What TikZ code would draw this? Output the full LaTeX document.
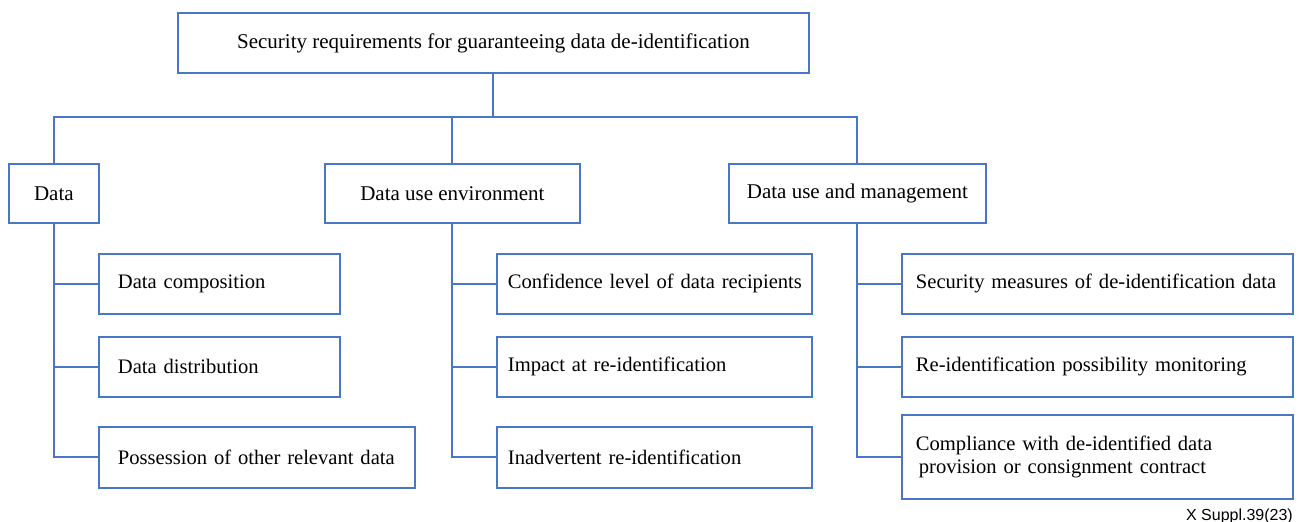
\documentclass[tikz,border=0pt]{standalone}
\usepackage{fontspec}
\setmainfont{Liberation Serif}
\newfontfamily\footfont{Liberation Sans}
\definecolor{linkblue}{RGB}{74,118,200}
\begin{document}
\begin{tikzpicture}[x=1pt,y=-1pt,
  every node/.style={font=\fontsize{21}{23}\selectfont, text=black},
  base/.style={draw=linkblue, line width=1.8pt, rectangle, anchor=north west, inner ysep=0pt},
  headbox/.style={base, align=center, inner xsep=0pt},
  leafbox/.style={base, align=left, font=\fontsize{20.6}{23}\selectfont},
  link/.style={draw=linkblue, line width=2pt}]
\useasboundingbox (0,0) rectangle (1299,522);

% top
\node[headbox, minimum width=631, minimum height=60] (top) at (177,12) {Security requirements for guaranteeing data de-identification};

% level 2
\node[headbox, minimum width=90, minimum height=59] (data) at (8,163) {Data};
\node[headbox, minimum width=255, minimum height=59] (due) at (324,163) {Data use environment};
\node[headbox, minimum width=257, minimum height=59] (dum) at (728,163) {Data use and management};

% leaves: data
\node[leafbox, inner xsep=19, text width=203, minimum height=60] (d1) at (98,253) {\mbox{Data composition}};
\node[leafbox, inner xsep=19, text width=203, minimum height=60] (d2) at (98,336) {\mbox{Data distribution}};
\node[leafbox, inner xsep=19, text width=278, minimum height=61] (d3) at (98,426) {\mbox{Possession of other relevant data}};

% leaves: environment
\node[leafbox, inner xsep=11, text width=293, minimum height=60] (e1) at (496,253) {\mbox{Confidence level of data recipients}};
\node[leafbox, inner xsep=11, text width=293, minimum height=60] (e2) at (496,336) {\mbox{Impact at re-identification}};
\node[leafbox, inner xsep=11, text width=293, minimum height=61] (e3) at (496,426) {\mbox{Inadvertent re-identification}};

% leaves: management
\node[leafbox, inner xsep=14, text width=363, minimum height=60] (m1) at (901,253) {\mbox{Security measures of de-identification data}};
\node[leafbox, inner xsep=14, text width=363, minimum height=60] (m2) at (901,336) {\mbox{Re-identification possibility monitoring}};
\node[leafbox, inner xsep=14, text width=363, minimum height=84] (m3) at (901,414) {\mbox{Compliance with de-identified data}\\\mbox{\hspace*{3pt}provision or consignment contract}};

% footer
\node[anchor=base east, inner sep=0pt, font=\footfont\fontsize{16}{18}\selectfont] (foot) at (1293,520) {X Suppl.39(23)};

% connectors
\coordinate (bus) at (top.south |- 0,117);
\draw[link] (top.south) -- (bus);
\draw[link] (data.north) |- (bus) -| (dum.north);
\draw[link] (due.north) -- (due.north |- bus);

\draw[link] (data.south) |- (d3.west);
\draw[link] (data.south |- d1.west) -- (d1.west);
\draw[link] (data.south |- d2.west) -- (d2.west);

\draw[link] (due.south) |- (e3.west);
\draw[link] (due.south |- e1.west) -- (e1.west);
\draw[link] (due.south |- e2.west) -- (e2.west);

\draw[link] (dum.south) |- (m3.west);
\draw[link] (dum.south |- m1.west) -- (m1.west);
\draw[link] (dum.south |- m2.west) -- (m2.west);
\end{tikzpicture}
\end{document}
